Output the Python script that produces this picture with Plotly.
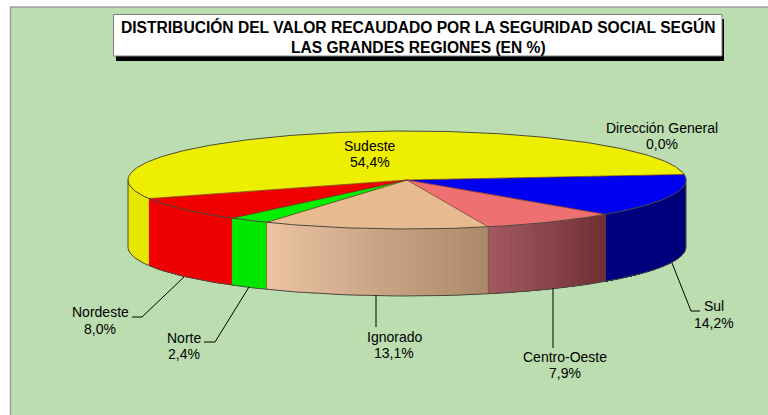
import math
import plotly.graph_objects as go

# ---- data ----
regions = ["Dirección General", "Sul", "Centro-Oeste", "Ignorado", "Norte", "Nordeste", "Sudeste"]
shares = [0.0, 14.2, 7.9, 13.1, 2.4, 8.0, 54.4]
top_colors = ["#3a3a9a", "#0000f0", "#ee7070", "#e8ba90", "#00ee00", "#f00000", "#eeee00"]
rim_left = ["#000080", "#000080", "#a25a60", "#ecc4a4", "#00e800", "#f00000", "#e6e600"]
rim_right = ["#000080", "#000078", "#6e2e34", "#aa8868", "#00e800", "#ee0000", "#e6e600"]
value_text = ["0,0%", "14,2%", "7,9%", "13,1%", "2,4%", "8,0%", "54,4%"]

# ---- pie geometry (pixels) ----
W, H = 768, 415
CX, CY, RX, RY, DEPTH = 407, 180, 279, 49, 67
START = -6.5
EDGE = "#4a4a40"

# label line centres: (x, name y, value y)
label_pos = [(662, 128, 144), (714, 306, 323), (565, 357, 373), (394, 337, 353),
             (184, 338, 354), (100, 312, 329), (370, 146, 162)]
# leader lines
leaders = [
    [(672, 263), (691, 311), (700, 311)],
    [(553, 288), (553, 348)],
    [(376, 295), (376, 327)],
    [(249, 287), (215, 342), (204, 342)],
    [(184, 277), (142, 317), (132, 317)],
]


def pt(t, dy=0):
    a = math.radians(t)
    return CX + RX * math.cos(a), CY + RY * math.sin(a) + dy


def mix(c1, c2, f):
    a = [int(c1[i:i + 2], 16) for i in (1, 3, 5)]
    b = [int(c2[i:i + 2], 16) for i in (1, 3, 5)]
    return "#%02x%02x%02x" % tuple(round(p + (q - p) * f) for p, q in zip(a, b))


def arc(t0, t1, dy=0, step=1.0):
    n = max(1, int(abs(t1 - t0) / step))
    return [pt(t0 + (t1 - t0) * i / n, dy) for i in range(n + 1)]


def poly(points, fill=None, line=None, width=0.0, close=True):
    xs, ys = zip(*points)
    return go.Scatter(
        x=xs, y=ys, mode="lines", hoverinfo="skip", showlegend=False,
        fill="toself" if close else "none", fillcolor=fill,
        line=dict(color=line or fill or EDGE, width=width),
    )


fig = go.Figure()

bounds = []
a = START
for v in shares:
    b = a + v * 3.6
    bounds.append((a, b))
    a = b

# rim: visible front half, strips painted over one another for the shading
for (a0, a1), cl, cr in zip(bounds, rim_right, rim_left):
    lo, hi = max(a0, 0), min(a1, 180)
    if hi <= lo:
        continue
    n = max(1, int((hi - lo) / 1.5))
    for i in range(n):
        t0 = lo + (hi - lo) * i / n
        col = mix(cl, cr, (i + 0.5) / n)
        pts = arc(t0, hi) + arc(hi, t0, DEPTH)
        fig.add_trace(poly(pts, fill=col, line=col, width=0))

# top: wedges
for (a0, a1), col in zip(bounds, top_colors):
    if a1 - a0 < 0.01:
        continue
    fig.add_trace(poly([(CX, CY)] + arc(a0, a1), fill=col, line=col, width=0.3))

# edges
fig.add_trace(poly(arc(0, 180, DEPTH), close=False, line=EDGE, width=1))
fig.add_trace(poly(arc(0, 360), close=False, line=EDGE, width=1))
for t in [pt(0), pt(180)]:
    fig.add_trace(poly([t, (t[0], t[1] + DEPTH)], close=False, line=EDGE, width=1))
for (a0, a1) in bounds[1:]:
    x, y = pt(a0)
    fig.add_trace(poly([(CX, CY), (x, y)], close=False, line="#6a2a20", width=0.7))
    if 44 < a0 < 125:
        fig.add_trace(poly([(x, y), (x, y + DEPTH)], close=False, line="#6a4a30", width=0.6))

# leader lines
for seg in leaders:
    fig.add_trace(poly(seg, close=False, line="#000000", width=1))

# labels
for name, val, (x, y1, y2) in zip(regions, value_text, label_pos):
    for text, y in ((name, y1), (val, y2)):
        fig.add_annotation(
            x=x, y=y, text=text, showarrow=False, xanchor="center", yanchor="middle",
            font=dict(family="Liberation Sans", size=14, color="#000000"),
        )

shapes = [
    dict(type="rect", x0=10.5, y0=7, x1=W + 5, y1=H + 5, fillcolor="#bbddb0",
         line=dict(color="#a0a0a0", width=1.5), layer="below"),
    dict(type="rect", x0=116, y0=19, x1=724, y1=61, fillcolor="#000000", line=dict(width=0), layer="below"),
    dict(type="rect", x0=113.5, y0=14.5, x1=722, y1=56, fillcolor="#ffffff",
         line=dict(color="#808080", width=1), layer="below"),
]

fig.add_annotation(
    x=418, y=37, showarrow=False, xanchor="center", yanchor="middle", align="center",
    text="<b>DISTRIBUCIÓN DEL VALOR RECAUDADO POR LA SEGURIDAD SOCIAL SEGÚN<br>LAS GRANDES REGIONES (EN %)</b>",
    font=dict(family="Liberation Sans", size=15.6, color="#000000"),
)

fig.update_layout(
    width=W, height=H, margin=dict(l=0, r=0, t=0, b=0),
    paper_bgcolor="#ffffff", plot_bgcolor="#ffffff", shapes=shapes, showlegend=False,
    xaxis=dict(range=[0, W], visible=False, fixedrange=True),
    yaxis=dict(range=[H, 0], visible=False, fixedrange=True),
)
fig.write_html(
    "out.html", config={"displayModeBar": False},
    post_script="document.body.style.margin='0';document.body.style.overflow='hidden';",
)
